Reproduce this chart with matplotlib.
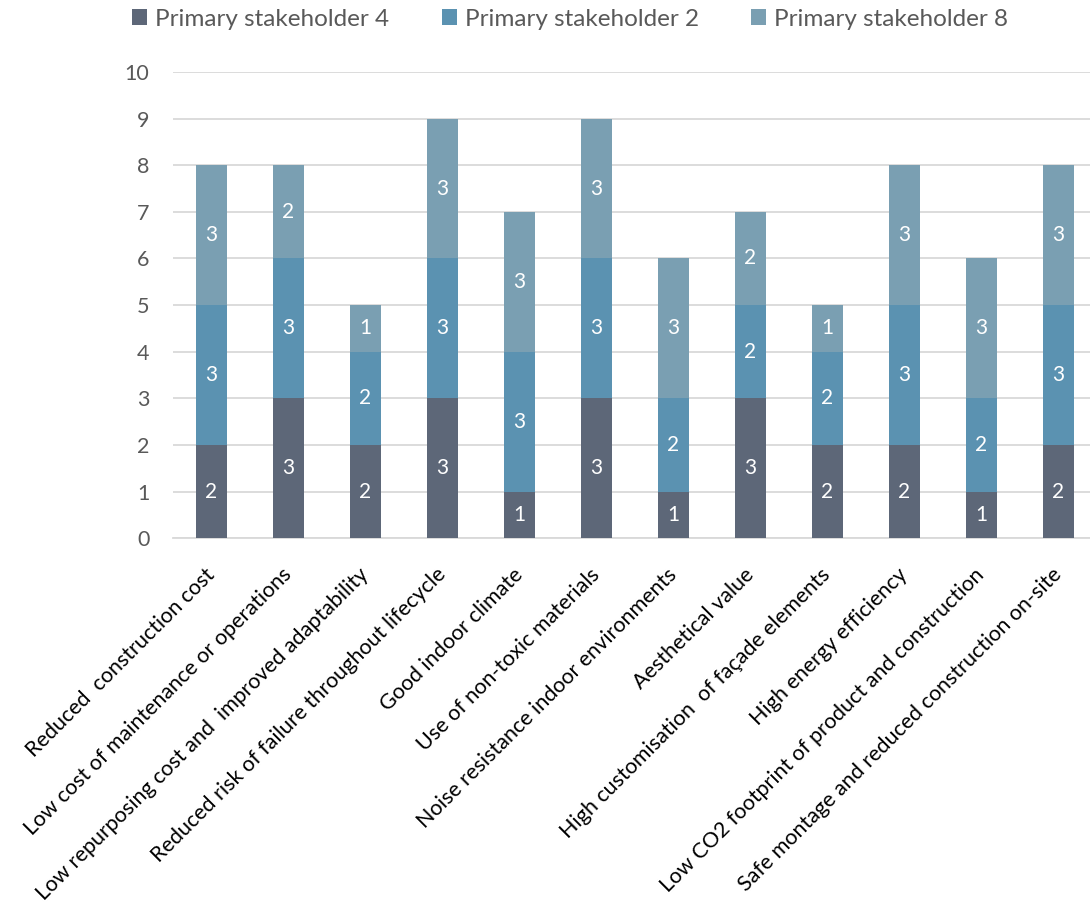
import matplotlib
matplotlib.use("Agg")
import matplotlib.pyplot as plt
import numpy as np

plt.rcParams['font.family'] = ['Lato', 'DejaVu Sans']

# criteria and scores per stakeholder
kategorien = [
    "Reduced  construction cost",
    "Low cost of maintenance or operations",
    "Low repurposing cost and  improved adaptability",
    "Reduced risk of failure throughout lifecycle",
    "Good indoor climate",
    "Use of non-toxic materials",
    "Noise resistance indoor environments",
    "Aesthetical value",
    "High customisation  of façade elements",
    "High energy efficiency",
    "Low CO2 footprint of product and construction",
    "Safe montage and reduced construction on-site",
]
stakeholder_4 = [2, 3, 2, 3, 1, 3, 1, 3, 2, 2, 1, 2]
stakeholder_2 = [3, 3, 2, 3, 3, 3, 2, 2, 2, 3, 2, 3]
stakeholder_8 = [3, 2, 1, 3, 3, 3, 3, 2, 1, 3, 3, 3]

serien = [
    ("Primary stakeholder 4", stakeholder_4, "#5d6778"),
    ("Primary stakeholder 2", stakeholder_2, "#5b92b1"),
    ("Primary stakeholder 8", stakeholder_8, "#7a9fb2"),
]

fig = plt.figure(figsize=(10.9, 9.06), dpi=100)
# plot area runs slightly past the right edge of the figure
ax = fig.add_axes([0.1587, 0.406, 0.8477, 0.5145])

x = np.arange(len(kategorien))
unten = np.zeros(len(kategorien))
for name, werte, farbe in serien:
    werte = np.array(werte)
    ax.bar(x, werte, 0.4, bottom=unten, color=farbe, label=name, zorder=3)
    for xi, b, w in zip(x, unten, werte):
        ax.text(xi, b + w / 2, str(w), ha="center", va="center",
                color="white", fontsize=15, zorder=4)
    unten = unten + werte

ax.set_xlim(-0.5, len(kategorien) - 0.5)
ax.set_ylim(0, 10)
ax.set_yticks(range(0, 11))
ax.yaxis.grid(True, color="#d9d9d9", linewidth=1.3, zorder=0)
for s in ["top", "right", "left"]:
    ax.spines[s].set_visible(False)
ax.spines["bottom"].set_color("#d9d9d9")
ax.spines["bottom"].set_linewidth(1.3)
ax.tick_params(axis="both", length=0, labelcolor="#595959")
ax.tick_params(axis="y", pad=17, labelsize=15.5)
ax.tick_params(axis="x", pad=24)
ax.set_xticks(x)
ax.set_xticklabels(kategorien, rotation=45, ha="right", va="center",
                   rotation_mode="anchor", fontsize=15.5, color="#000000")

fig.legend(loc="center", bbox_to_anchor=(0.523, 0.979), ncol=3, frameon=False,
           fontsize=17.5, handlelength=0.62, handleheight=0.62, columnspacing=2.15,
           handletextpad=0.33, labelcolor="#595959")

fig.savefig("out.png", dpi=100)
